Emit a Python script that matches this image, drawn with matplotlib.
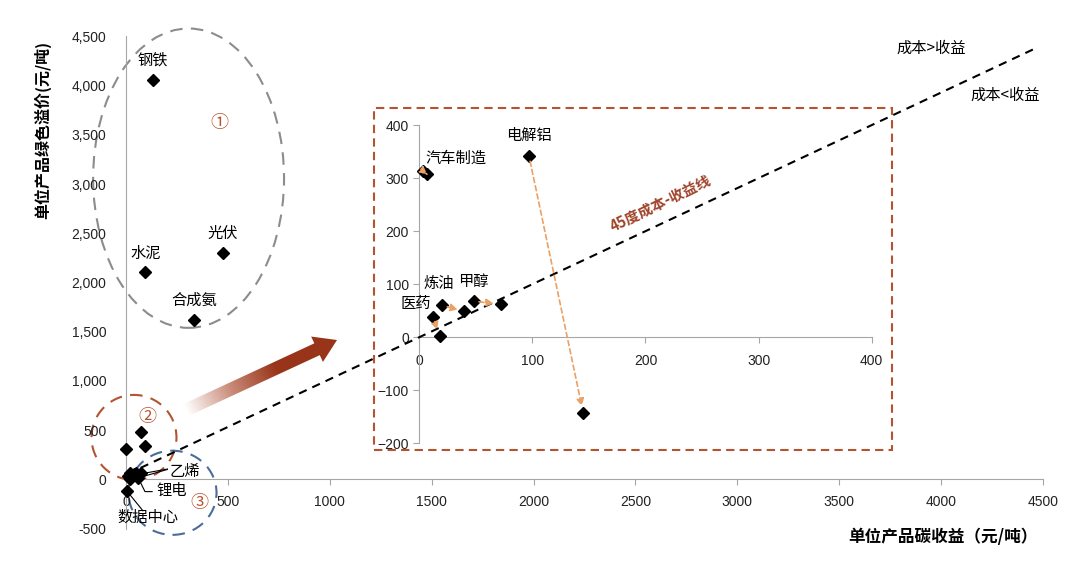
import numpy as np
import matplotlib
matplotlib.use('Agg')
import matplotlib.pyplot as plt
from matplotlib.patches import Ellipse, Rectangle, FancyArrow
from matplotlib.colors import LinearSegmentedColormap
from matplotlib.ticker import FuncFormatter

plt.rcParams['font.family'] = ['Noto Sans CJK SC', 'DejaVu Sans']

# main chart: carbon benefit (x) vs green premium (y), yuan/ton
big_names = ['钢铁', '水泥', '光伏', '合成氨']
big_x = [131, 95, 474, 334]
big_y = [4062, 2102, 2299, 1620]

# points near the origin (circles 2 and 3)
small_x = [0, 72, 93, 12, 20, 40, 48, 72, 18, 61, 3]
small_y = [305, 484, 342, 38, 60, 49, 68, 62, 2, 10, -116]

# inset: before -> after
ins_names = ['汽车制造', '电解铝', '医药', '炼油', '甲醇']
ins_x = [3, 97, 12, 20, 48]
ins_y = [314, 342, 38, 60, 68]
ins_x2 = [7, 145, 18, 40, 72]
ins_y2 = [307, -143, 2, 49, 62]

xticks = list(range(0, 4501, 500))
yticks = list(range(-500, 4501, 500))
ins_xticks = [0, 100, 200, 300, 400]
ins_yticks = [-200, -100, 0, 100, 200, 300, 400]

brown = '#b4532f'
blue = '#4a6c9b'
grey = '#8c8c8c'
orange = '#eba064'
axcol = '#a6a6a6'
numfont = ['Liberation Sans', 'DejaVu Sans']

fig = plt.figure(figsize=(10.8, 5.7), dpi=100)

# ---- main axes
ax = fig.add_axes([0.1167, 0.0728, 0.849, 0.8632])
ax.patch.set_alpha(0)
ax.set_xlim(0, 4500)
ax.set_ylim(-500, 4500)
ax.spines['top'].set_visible(False)
ax.spines['right'].set_visible(False)
ax.spines['bottom'].set_position(('data', 0))
ax.spines['left'].set_color(axcol)
ax.spines['bottom'].set_color(axcol)
ax.set_xticks(xticks)
ax.set_yticks(yticks)
ax.yaxis.set_major_formatter(FuncFormatter(lambda v, p: f'{v:,.0f}'))
ax.tick_params(axis='y', length=0, pad=14, labelsize=10)
ax.tick_params(axis='x', length=4, direction='out', color=axcol, pad=7, labelsize=10)
for lab in ax.get_xticklabels() + ax.get_yticklabels():
    lab.set_family(numfont)
    lab.set_color('#222222')

ax.plot(big_x, big_y, 'D', color='black', ms=6, clip_on=False, zorder=5)
ax.plot(small_x, small_y, 'D', color='black', ms=6, clip_on=False, zorder=5)
for n, x, y in zip(big_names, big_x, big_y):
    ax.annotate(n, (x, y), xytext=(0, 14), textcoords='offset points',
                ha='center', va='center', fontsize=11)

# dashed ellipses
ax.add_patch(Ellipse((307, 3060), 937, 3042, fill=False, ec=grey, lw=1.5,
                     ls=(0, (6, 4)), clip_on=False))
ax.add_patch(Ellipse((39, 425), 417, 865, fill=False, ec=brown, lw=1.5,
                     ls=(0, (6, 4)), clip_on=False))
ax.add_patch(Ellipse((228, -137), 432, 855, fill=False, ec=blue, lw=1.5,
                     ls=(0, (6, 4)), clip_on=False))
ax.text(456, 3625, '①', color=brown, fontsize=13, ha='center', va='center')
ax.text(103, 634, '②', color=brown, fontsize=13, ha='center', va='center')
ax.text(358, -241, '③', color=brown, fontsize=13, ha='center', va='center')

# leader labels near origin
ax.plot([69, 203], [54, 104], color='black', lw=0.8, clip_on=False)
ax.plot([69, 203], [20, 100], color='black', lw=0.8, clip_on=False)
ax.text(290, 77, '乙烯', fontsize=11, ha='center', va='center')
ax.plot([61, 93, 128], [10, -125, -125], color='black', lw=0.8, clip_on=False)
ax.text(224, -109, '锂电', fontsize=11, ha='center', va='center')
ax.plot([3, 83], [-116, -320], color='black', lw=0.8, clip_on=False)
ax.text(108, -384, '数据中心', fontsize=11, ha='center', va='center')

fig.text(43 / 1080, 1 - 130 / 570, '单位产品绿色溢价(元/吨)', rotation=90,
         ha='center', va='center', fontsize=11.5, fontweight='bold')
fig.text(943 / 1080, 1 - 537 / 570, '单位产品碳收益（元/吨）',
         ha='center', va='center', fontsize=12, fontweight='bold')
fig.text(931 / 1080, 1 - 48 / 570, '成本>收益', ha='center', va='center', fontsize=11)
fig.text(1005 / 1080, 1 - 95 / 570, '成本<收益', ha='center', va='center', fontsize=11)

# ---- inset frame
fig.add_artist(Rectangle((0.3463, 0.2105), 0.4796, 0.6, transform=fig.transFigure,
                         fill=False, ec=brown, lw=1.5, ls=(0, (4, 2.5))))

# ---- inset axes
ins = fig.add_axes([0.3882, 0.2223, 0.4189, 0.5582])
ins.patch.set_alpha(0)
ins.set_xlim(0, 400)
ins.set_ylim(-200, 400)
ins.spines['top'].set_visible(False)
ins.spines['right'].set_visible(False)
ins.spines['bottom'].set_position(('data', 0))
ins.spines['left'].set_color(axcol)
ins.spines['bottom'].set_color(axcol)
ins.set_xticks(ins_xticks)
ins.set_yticks(ins_yticks)
ins.tick_params(length=4, direction='out', color=axcol, labelsize=10)
ins.tick_params(axis='x', pad=8)
for lab in ins.get_xticklabels() + ins.get_yticklabels():
    lab.set_family(numfont)
    lab.set_color('#222222')

# 45 degree cost = benefit line (extends across the figure)
ins.plot([-258, 545], [-258, 545], color='black', lw=1.5, ls=(0, (4, 3)),
         clip_on=False, zorder=3)
ins.text(213, 253, '45度成本-收益线', rotation=26, ha='center', va='center',
         fontsize=10.5, fontweight='bold', color='#a0432b')

ins.plot(ins_x, ins_y, 'D', color='black', ms=6, clip_on=False, zorder=5)
ins.plot(ins_x2, ins_y2, 'D', color='black', ms=6, clip_on=False, zorder=5)
for x, y, x2, y2 in zip(ins_x, ins_y, ins_x2, ins_y2):
    ins.annotate('', (x2, y2), xytext=(x, y),
                 arrowprops=dict(arrowstyle='-|>', color=orange, lw=1.2,
                                 ls=(0, (3, 2)), shrinkA=4, shrinkB=5,
                                 mutation_scale=11), zorder=6)
label_off = [(24, 9), (0, 15), (-12, 10), (-2, 16), (0, 14)]
for n, x, y, off in zip(ins_names, ins_x, ins_y, label_off):
    ins.annotate(n, (x, y), xytext=off, textcoords='offset points',
                 ha='center', va='center', fontsize=11)

# ---- big gradient arrow (pixel overlay)
ov = fig.add_axes([0, 0, 1, 1], zorder=1)
ov.patch.set_alpha(0)
ov.set_xlim(0, 1080)
ov.set_ylim(570, 0)
ov.axis('off')
x0, y0, x1, y1 = 186, 410, 337, 340
arr = FancyArrow(x0, y0, x1 - x0, y1 - y0, width=13, head_width=28,
                 head_length=22, length_includes_head=True, fc='none', ec='none')
ov.add_patch(arr)
gx, gy = np.meshgrid(np.linspace(170, 350, 300), np.linspace(320, 430, 200))
L = np.hypot(x1 - x0, y1 - y0)
t = ((gx - x0) * (x1 - x0) + (gy - y0) * (y1 - y0)) / L ** 2
cmap = LinearSegmentedColormap.from_list('g', ['#ffffff', '#c98a78', '#983419'])
im = ov.imshow(t, extent=(170, 350, 430, 320), origin='upper', cmap=cmap,
               vmin=0, vmax=0.6, aspect='auto')
im.set_clip_path(arr)

fig.savefig('out.png', dpi=100)
